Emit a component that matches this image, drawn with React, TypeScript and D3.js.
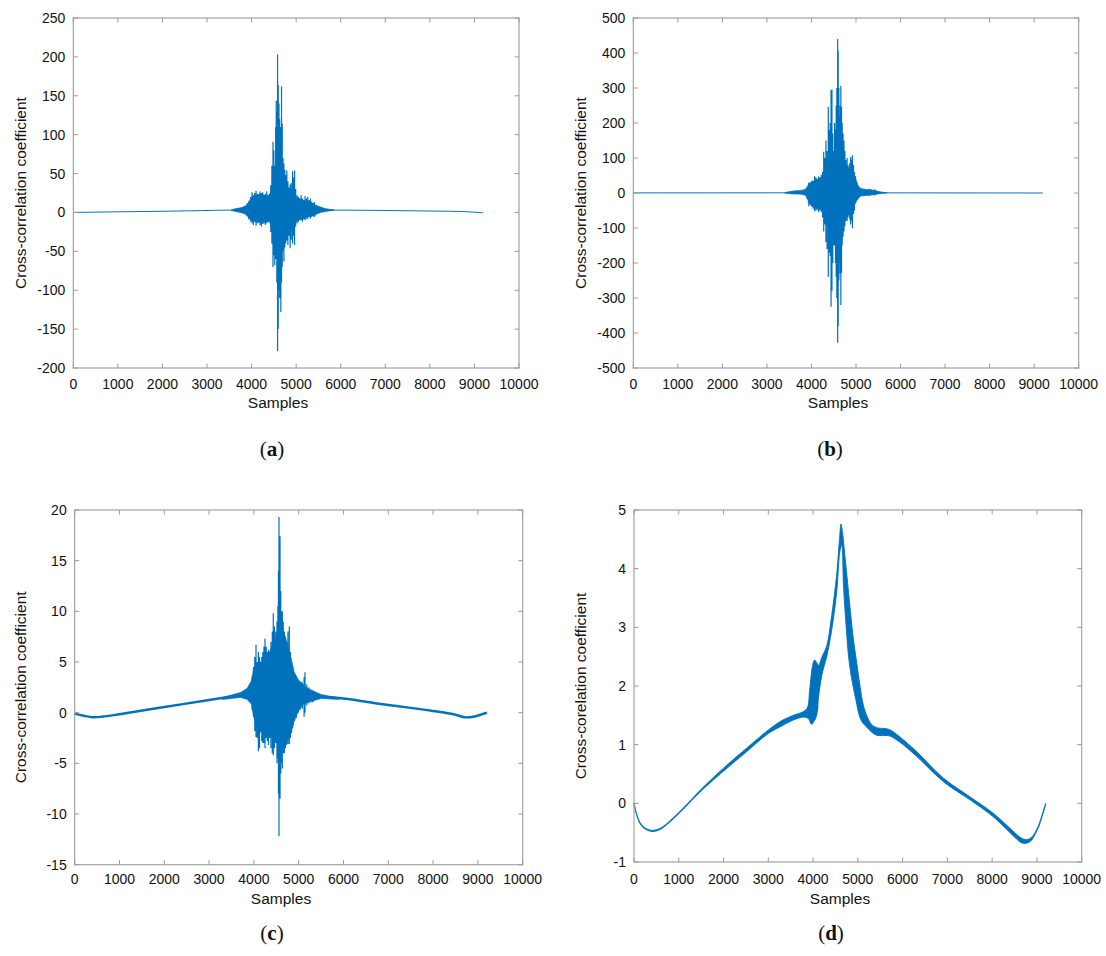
import React from "react";
import * as d3 from "d3";

type Pt = [number, number];
type Env = [number, number, number];

// ---------- tick values ----------
const xTicks = [0, 1000, 2000, 3000, 4000, 5000, 6000, 7000, 8000, 9000, 10000];
const yTicksA = [-200, -150, -100, -50, 0, 50, 100, 150, 200, 250];
const yTicksB = [-500, -400, -300, -200, -100, 0, 100, 200, 300, 400, 500];
const yTicksC = [-15, -10, -5, 0, 5, 10, 15, 20];
const yTicksD = [-1, 0, 1, 2, 3, 4, 5];

// ---------- panel (a) ----------
const trendA: Pt[] = [[0, 0], [500, 0.4], [1000, 0.8], [2000, 1.5], [3000, 2.5], [3500, 3], [6000, 3], [7000, 2.5], [8000, 1.8], [8800, 1], [9200, -0.5]];
const bandA: Env[] = [[3550, 3.5, 2.5], [3650, 5, 1], [3750, 6, 0], [3850, 8, -2], [3900, 10, -4], [3950, 14, -8], [4000, 20, -10], [4100, 22, -12], [4200, 24, -13], [4300, 22, -12], [4400, 22, -12], [4450, 30, -18], [4500, 40, -28], [4550, 48, -35], [4600, 52, -38], [4650, 50, -38], [4700, 42, -32], [4800, 32, -25], [4900, 28, -22], [4980, 22, -12], [5050, 18, -9], [5150, 16, -8], [5250, 15, -6], [5350, 12, -4], [5450, 9, -2], [5550, 7, 0], [5650, 5, 1], [5750, 4, 2], [5850, 3.4, 2.6]];
const spikesA: Env[] = [[3900, 12, -5], [3940, 15, -9], [3980, 20, -12], [4010, 26, -14], [4040, 22, -16], [4070, 25, -12], [4100, 28, -17], [4130, 24, -14], [4160, 22, -12], [4190, 27, -16], [4220, 25, -18], [4250, 26, -15], [4280, 20, -14], [4310, 24, -16], [4340, 27, -14], [4370, 22, -12], [4400, 24, -10], [4430, 35, -25], [4455, 60, -40], [4480, 91, -70], [4500, 80, -55], [4520, 60, -68], [4540, 110, -60], [4553, 144, -50], [4567, 130, -90], [4583, 203, -178], [4598, 164, -150], [4615, 140, -100], [4630, 120, -110], [4645, 100, -80], [4657, 110, -128], [4672, 162, -90], [4688, 114, -70], [4705, 70, -50], [4725, 63, -63], [4745, 55, -45], [4765, 48, -40], [4791, 54, -36], [4815, 40, -42], [4840, 32, -30], [4865, 36, -46], [4890, 38, -35], [4920, 53, -40], [4945, 45, -30], [4965, 54, -42], [4990, 30, -18], [5020, 22, -14], [5050, 20, -12], [5080, 18, -10], [5110, 22, -10], [5140, 18, -12], [5170, 16, -9], [5200, 21, -10], [5230, 18, -8], [5260, 20, -8], [5290, 16, -6], [5320, 18, -8], [5350, 14, -6], [5380, 12, -5], [5410, 13, -6], [5440, 10, -4], [5480, 8, -2], [5520, 7, -1]];

// ---------- panel (b) ----------
const trendB: Pt[] = [[0, 0.3], [4000, 0.5], [9200, 0]];
const bandB: Env[] = [[3400, 1, 0], [3500, 4, -2], [3600, 6, -3], [3700, 7, -3], [3800, 8, -4], [3880, 12, -8], [3950, 28, -30], [4050, 35, -40], [4150, 40, -45], [4250, 48, -50], [4300, 70, -70], [4400, 95, -100], [4500, 110, -110], [4600, 125, -120], [4700, 105, -95], [4800, 75, -65], [4900, 70, -60], [4980, 45, -30], [5050, 20, -15], [5120, 12, -8], [5250, 10, -7], [5400, 8, -5], [5500, 5, -3], [5600, 2, -1], [5700, 0.8, 0]];
const spikesB: Env[] = [[3900, 18, -15], [3940, 30, -38], [3980, 28, -35], [4010, 35, -40], [4040, 32, -45], [4070, 48, -52], [4100, 45, -50], [4130, 40, -48], [4160, 47, -54], [4190, 44, -50], [4220, 52, -55], [4250, 60, -70], [4275, 118, -110], [4300, 100, -90], [4325, 150, -140], [4350, 120, -160], [4378, 246, -239], [4400, 180, -170], [4420, 200, -180], [4440, 294, -325], [4460, 296, -280], [4480, 170, -200], [4500, 120, -150], [4520, 200, -150], [4540, 180, -200], [4555, 250, -240], [4570, 300, -300], [4588, 440, -428], [4600, 406, -380], [4615, 300, -250], [4630, 220, -200], [4645, 250, -230], [4660, 306, -320], [4675, 246, -228], [4690, 200, -150], [4710, 170, -125], [4730, 150, -110], [4750, 120, -95], [4770, 94, -80], [4800, 100, -80], [4820, 80, -70], [4840, 70, -60], [4860, 85, -75], [4880, 103, -90], [4900, 95, -80], [4920, 108, -101], [4945, 80, -60], [4965, 60, -50], [4990, 48, -29], [5020, 30, -20], [5050, 20, -15], [5150, 12, -9], [5200, 11, -8], [5300, 12, -8], [5350, 10, -6], [5420, 11, -7]];

// ---------- panel (c) ----------
const trendC: Pt[] = [[0, -0.1], [200, -0.3], [400, -0.45], [600, -0.4], [1000, -0.15], [2000, 0.56], [3000, 1.25], [3500, 1.6], [3800, 1.8], [5500, 1.6], [6000, 1.4], [7000, 0.76], [8000, 0.17], [8500, -0.2], [8700, -0.45], [8900, -0.4], [9100, -0.15], [9200, 0]];
const bandC: Env[] = [[3300, 1.5, 1.3], [3500, 1.75, 1.4], [3700, 2.0, 1.5], [3850, 2.4, 1.3], [3950, 3.2, 0.8], [4000, 4.5, -0.5], [4100, 5, -2], [4200, 5, -1.8], [4300, 5.5, -2], [4400, 6.5, -2.5], [4500, 7.5, -3], [4600, 8.5, -3.5], [4700, 7.5, -3], [4800, 6, -2.5], [4900, 4, -0.8], [5000, 3.2, 0.2], [5100, 2.8, 0.8], [5200, 2.4, 1.0], [5350, 2.1, 1.2], [5500, 1.8, 1.4], [5700, 1.6, 1.35], [5900, 1.45, 1.3]];
const spikesC: Env[] = [[3960, 3.6, 0.3], [3990, 4.5, -0.4], [4020, 5.5, -1.8], [4047, 6.7, -2.4], [4075, 5, -2.5], [4100, 6, -3.8], [4125, 5.5, -3.5], [4150, 4.9, -1.7], [4175, 5.5, -2.8], [4200, 6, -3], [4225, 6.5, -3], [4248, 7.3, -3.5], [4275, 6.5, -2.5], [4300, 6, -2.8], [4325, 6.2, -3.2], [4350, 6, -2.5], [4380, 7, -3.5], [4410, 8, -4], [4433, 9.8, -4.2], [4460, 8.5, -3.5], [4490, 8, -3], [4515, 9, -5], [4535, 10.5, -4.5], [4548, 14, -8], [4560, 19.3, -12.2], [4572, 13, -7], [4583, 17.4, -8.5], [4600, 12, -6], [4620, 10, -5], [4635, 10, -5.5], [4655, 9, -4], [4680, 8, -4], [4705, 7.5, -3.5], [4730, 7, -3.2], [4760, 8, -3.1], [4790, 8.5, -3.1], [4815, 6, -2.5], [4840, 5, -2], [4865, 4.5, -1.5], [4880, 3.6, -1.1], [4910, 3.5, -0.8], [4950, 3.4, -0.5], [4990, 3.2, 0], [5030, 3, 0.3], [5080, 3, 0.4], [5120, 3.5, -0.4], [5140, 4, 0], [5180, 2.8, 0.7], [5230, 2.5, 0.9], [5300, 2.2, 1.0], [5327, 2.0, 1.1]];

// ---------- panel (d) ----------
const upperD: Pt[] = [[0, 0], [30, -0.1], [75, -0.22], [130, -0.32], [200, -0.39], [300, -0.44], [400, -0.46], [500, -0.45], [600, -0.42], [800, -0.3], [1100, -0.08], [1500, 0.24], [2000, 0.6], [2500, 0.93], [3000, 1.25], [3300, 1.41], [3560, 1.5], [3800, 1.57], [3880, 1.64], [3920, 1.9], [3980, 2.3], [4030, 2.44], [4080, 2.4], [4120, 2.35], [4200, 2.5], [4304, 2.68], [4415, 3.2], [4527, 3.9], [4590, 4.5], [4624, 4.76], [4660, 4.6], [4700, 4.3], [4760, 3.85], [4830, 3.3], [4900, 2.8], [4974, 2.4], [5048, 2.0], [5120, 1.68], [5197, 1.5], [5300, 1.35], [5420, 1.29], [5700, 1.26], [5941, 1.13], [6300, 0.89], [6910, 0.43], [7505, 0.11], [8026, -0.17], [8548, -0.53], [8650, -0.59], [8772, -0.62], [8880, -0.58], [8957, -0.5], [9040, -0.37], [9106, -0.22], [9196, 0]];
const lowerD: Pt[] = [[0, 0], [30, -0.11], [75, -0.24], [130, -0.34], [200, -0.41], [300, -0.46], [400, -0.48], [500, -0.47], [600, -0.44], [800, -0.32], [1100, -0.1], [1500, 0.21], [2000, 0.55], [2500, 0.87], [3000, 1.19], [3300, 1.32], [3560, 1.42], [3800, 1.47], [3900, 1.44], [3960, 1.35], [4020, 1.4], [4080, 1.5], [4120, 1.8], [4200, 2.2], [4304, 2.5], [4415, 2.95], [4527, 3.6], [4600, 4.3], [4640, 4.4], [4680, 3.7], [4740, 3.0], [4800, 2.45], [4880, 2.05], [4960, 1.75], [5030, 1.5], [5100, 1.38], [5197, 1.3], [5300, 1.22], [5420, 1.16], [5700, 1.15], [5941, 1.04], [6300, 0.81], [6910, 0.37], [7505, 0.06], [8026, -0.23], [8548, -0.61], [8650, -0.67], [8772, -0.68], [8880, -0.63], [8957, -0.53], [9040, -0.4], [9106, -0.25], [9196, -0.02]];
const spikesD: Env[] = [[3950, 2.1, 1.4], [3980, 2.3, 1.35], [4010, 2.4, 1.38], [4040, 2.44, 1.42], [4070, 2.38, 1.5], [4100, 2.3, 1.6]];

const COLOR = "#0072BD";
const AXIS = "#9a9a9a";
const SANS = "'Liberation Sans', Arial, Helvetica, sans-serif";
const SERIF = "'Liberation Serif', 'Times New Roman', serif";

interface PanelCfg {
  key: string;
  left: number; right: number; top: number; bottom: number;
  yDomain: [number, number];
  yTicks: number[];
  yLabel: string;
  labelX: number;
  samplesX: number;
  captionX: number;
  captionY: number;
  tickLabelY: number;
  samplesY: number;
  trend?: Pt[];
  trendWidth?: number;
  band?: Env[];
  spikes?: Env[];
  upper?: Pt[];
  lower?: Pt[];
}

const panels: PanelCfg[] = [
  { key: "a", left: 73.3, right: 519, top: 18, bottom: 368, yDomain: [-200, 250], yTicks: yTicksA, yLabel: "Cross-correlation coefficient", labelX: 26, samplesX: 278, captionX: 272, captionY: 456, tickLabelY: 388.5, samplesY: 408, trend: trendA, trendWidth: 1, band: bandA, spikes: spikesA },
  { key: "b", left: 633.3, right: 1078.7, top: 18, bottom: 368, yDomain: [-500, 500], yTicks: yTicksB, yLabel: "Cross-correlation coefficient", labelX: 586, samplesX: 838, captionX: 830, captionY: 456, tickLabelY: 388.5, samplesY: 408, trend: trendB, trendWidth: 1, band: bandB, spikes: spikesB },
  { key: "c", left: 74.7, right: 522.7, top: 510, bottom: 864.7, yDomain: [-15, 20], yTicks: yTicksC, yLabel: "Cross-correlation coefficient", labelX: 26, samplesX: 281, captionX: 272, captionY: 940, tickLabelY: 884, samplesY: 903.5, trend: trendC, trendWidth: 2.4, band: bandC, spikes: spikesC },
  { key: "d", left: 634, right: 1081.7, top: 510, bottom: 862, yDomain: [-1, 5], yTicks: yTicksD, yLabel: "Cross-corelation coefficient", labelX: 586, samplesX: 840, captionX: 831, captionY: 940, tickLabelY: 884, samplesY: 903.5, upper: upperD, lower: lowerD, spikes: spikesD },
];

function Panel({ p }: { p: PanelCfg }) {
  const x = d3.scaleLinear().domain([0, 10000]).range([p.left, p.right]);
  const y = d3.scaleLinear().domain(p.yDomain).range([p.bottom, p.top]);
  const smooth = d3.line<Pt>().x((d) => x(d[0])).y((d) => y(d[1])).curve(d3.curveCatmullRom.alpha(0.5));
  const area = d3.area<Env>().x((d) => x(d[0])).y0((d) => y(d[2])).y1((d) => y(d[1]));
  const tl = 4.5;
  const spikePath = (p.spikes || []).map((s) => `M${x(s[0])},${y(s[1])}V${y(s[2])}`).join("");
  let polyPath = "";
  if (p.upper && p.lower) {
    const up = smooth(p.upper) || "";
    const lo = (smooth(p.lower.slice().reverse()) || "").replace(/^M/, "L");
    polyPath = up + lo + "Z";
  }
  const midY = (p.top + p.bottom) / 2;
  return (
    <g>
      {p.trend && <path d={smooth(p.trend) || ""} fill="none" stroke={COLOR} strokeWidth={p.trendWidth || 1} />}
      {p.band && <path d={area(p.band) || ""} fill={COLOR} stroke={COLOR} strokeWidth={0.6} />}
      {polyPath && <path d={polyPath} fill={COLOR} stroke={COLOR} strokeWidth={0.9} strokeLinejoin="round" />}
      {spikePath && <path d={spikePath} fill="none" stroke={COLOR} strokeWidth={1.2} />}
      <rect x={p.left} y={p.top} width={p.right - p.left} height={p.bottom - p.top} fill="none" stroke={AXIS} strokeWidth={1.1} />
      {xTicks.map((t) => (
        <g key={"x" + t}>
          <line x1={x(t)} x2={x(t)} y1={p.bottom} y2={p.bottom - tl} stroke={AXIS} strokeWidth={1} />
          <line x1={x(t)} x2={x(t)} y1={p.top} y2={p.top + tl} stroke={AXIS} strokeWidth={1} />
          <text x={x(t)} y={p.tickLabelY} textAnchor="middle" fontFamily={SANS} fontSize={14} fill="#111">{t}</text>
        </g>
      ))}
      {p.yTicks.map((t) => (
        <g key={"y" + t}>
          <line x1={p.left} x2={p.left + tl} y1={y(t)} y2={y(t)} stroke={AXIS} strokeWidth={1} />
          <line x1={p.right} x2={p.right - tl} y1={y(t)} y2={y(t)} stroke={AXIS} strokeWidth={1} />
          <text x={p.left - 8} y={y(t)} dy="0.36em" textAnchor="end" fontFamily={SANS} fontSize={14} fill="#111">{t}</text>
        </g>
      ))}
      <text x={p.samplesX} y={p.samplesY} textAnchor="middle" fontFamily={SANS} fontSize={15.5} fill="#111">Samples</text>
      <text transform={`translate(${p.labelX},${midY}) rotate(-90)`} textAnchor="middle" fontFamily={SANS} fontSize={15.5} fill="#111">{p.yLabel}</text>
      <text x={p.captionX} y={p.captionY} textAnchor="middle" fontFamily={SERIF} fontSize={21} fill="#111">(<tspan fontWeight="bold">{p.key}</tspan>)</text>
    </g>
  );
}

export default function App() {
  return (
    <svg width={1106} height={956} style={{ position: "absolute", left: 0, top: 0, background: "#fff" }}>
      <rect x={0} y={0} width={1106} height={956} fill="#fff" />
      {panels.map((p) => (
        <Panel key={p.key} p={p} />
      ))}
    </svg>
  );
}
